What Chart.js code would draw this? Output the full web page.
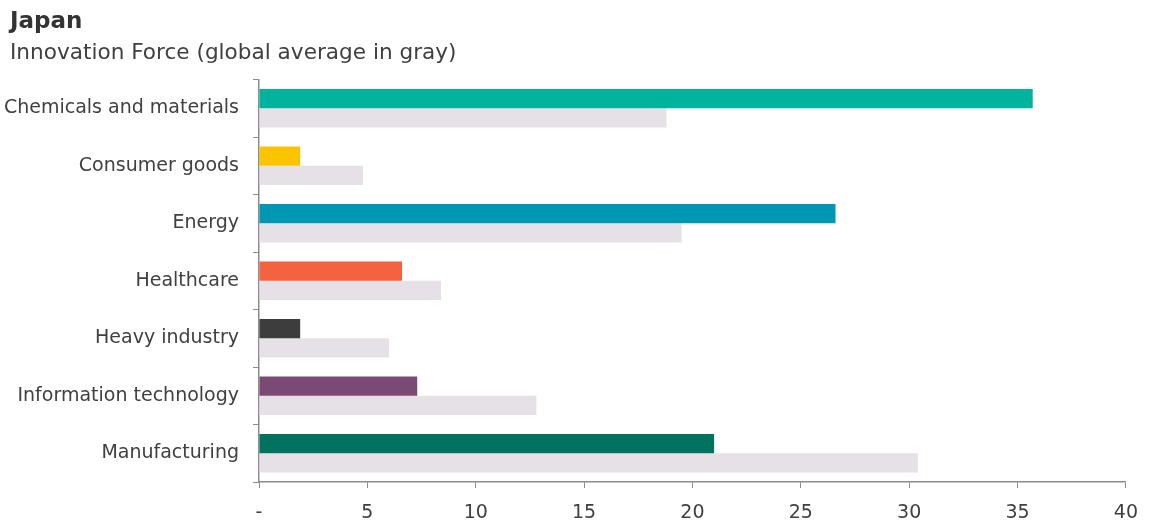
<!DOCTYPE html>
<html>
<head>
<meta charset="utf-8">
<script src="https://cdn.jsdelivr.net/npm/chart.js@4"></script>
<style>
  html, body { margin: 0; padding: 0; background: #fff; }
  #wrap { width: 1152px; height: 523px; }
</style>
</head>
<body>
<div id="wrap"><canvas id="chart" width="1152" height="523"></canvas></div>
<script>
// ===============================
// Data
// ===============================
const sectors = [
  "Chemicals and materials",
  "Consumer goods",
  "Energy",
  "Healthcare",
  "Heavy industry",
  "Information technology",
  "Manufacturing"
];
const japanValues = [35.7, 1.9, 26.6, 6.6, 1.9, 7.3, 21.0];
const globalValues = [18.8, 4.8, 19.5, 8.4, 6.0, 12.8, 30.4];
const sectorColors = ["#00b39c", "#fac400", "#0097b2", "#f4623f", "#3d3d3d", "#7b4a74", "#00725f"];
const xTicks = [0, 5, 10, 15, 20, 25, 30, 35, 40];
const xTickLabels = ["-", "5", "10", "15", "20", "25", "30", "35", "40"];

const FONT = "'DejaVu Sans', Verdana, sans-serif";
const TEXT = "#404040";
const AXIS = "#8c8c8c";

// y labels are clipped to the scale box; let the long one run into the left margin
const unclipLabels = {
  id: "unclipLabels",
  afterLayout(chart) { chart.scales.y.left = 0; }
};

const ctx = document.getElementById("chart").getContext("2d");

new Chart(ctx, {
  type: "bar",
  data: {
    labels: sectors,
    datasets: [
      {
        label: "Japan",
        data: japanValues,
        backgroundColor: sectorColors,
        categoryPercentage: 0.67,
        barPercentage: 1.0
      },
      {
        label: "Global average",
        data: globalValues,
        backgroundColor: "#e6e1e6",
        categoryPercentage: 0.67,
        barPercentage: 1.0
      }
    ]
  },
  plugins: [unclipLabels],
  options: {
    indexAxis: "y",
    responsive: false,
    animation: false,
    layout: { padding: { left: 10, right: 21, top: 0, bottom: 0 } },
    plugins: {
      legend: { display: false },
      tooltip: { enabled: false },
      title: {
        display: true,
        text: "Japan",
        align: "start",
        color: "#333",
        font: { family: FONT, size: 23, weight: "bold" },
        padding: { top: 8, bottom: 2 }
      },
      subtitle: {
        display: true,
        text: "Innovation Force (global average in gray)",
        align: "start",
        color: TEXT,
        font: { family: FONT, size: 21.6 },
        padding: { top: 3, bottom: 13 }
      }
    },
    scales: {
      x: {
        min: 0,
        max: 40,
        afterBuildTicks: s => { s.ticks = xTicks.map(v => ({ value: v })); },
        afterFit: s => { s.height = 41; },
        ticks: {
          color: TEXT,
          font: { family: FONT, size: 19 },
          padding: 14,
          callback: (v) => xTickLabels[xTicks.indexOf(v)]
        },
        grid: {
          drawOnChartArea: false,
          drawTicks: true,
          tickLength: 6,
          color: AXIS
        },
        border: { display: true, color: AXIS, width: 1.5 }
      },
      y: {
        afterFit: s => { s.width = 249; },
        ticks: {
          color: TEXT,
          font: { family: FONT, size: 19 },
          padding: 14
        },
        grid: {
          offset: true,
          drawOnChartArea: false,
          drawTicks: true,
          tickLength: 6,
          color: AXIS
        },
        border: { display: true, color: AXIS, width: 1.5 }
      }
    }
  }
});
</script>
</body>
</html>
